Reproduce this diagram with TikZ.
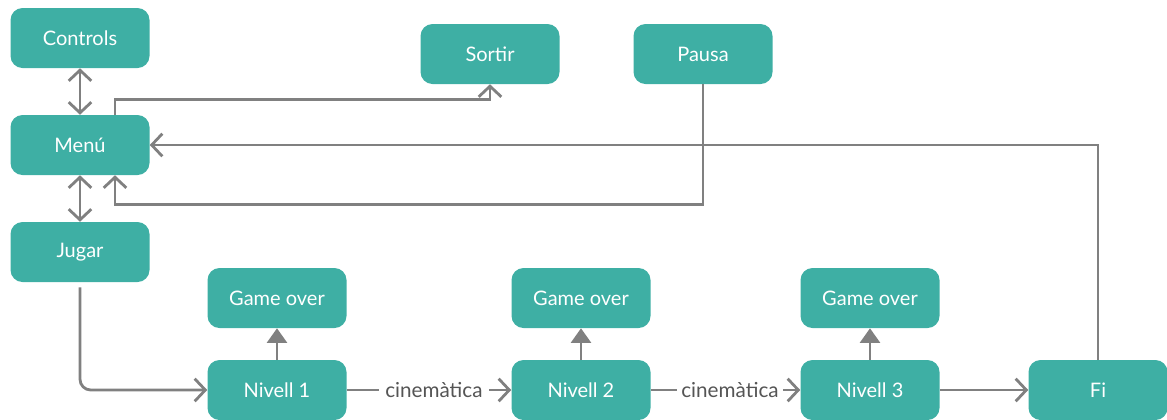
\documentclass[tikz,border=0pt]{standalone}
\usepackage{fontspec}
\setmainfont{Lato}
\usetikzlibrary{arrows.meta}
\definecolor{boxteal}{RGB}{62,175,164}
\definecolor{conncol}{RGB}{128,128,128}
\definecolor{lblcol}{RGB}{85,85,85}
\begin{document}
\begin{tikzpicture}[x=0.75pt,y=-0.75pt,
  box/.style={fill=boxteal, rounded corners=9pt, minimum width=104.25pt, minimum height=45pt,
    text=white, font=\fontsize{15}{18}\selectfont, inner sep=0pt},
  conn/.style={draw=conncol, line width=2.1pt},
  chev/.style={-{Straight Barb[length=8pt,width=17pt]}},
  chevboth/.style={{Straight Barb[length=8pt,width=17pt]}-{Straight Barb[length=8pt,width=17pt]}},
  tri/.style={-{Triangle[length=11pt,width=15pt]}},
  lbl/.style={text=lblcol, font=\fontsize{15.5}{18}\selectfont, fill=white, inner sep=1pt}
]
\useasboundingbox (0,0) rectangle (1167,419);
\node[box] (controls) at (80,38) {Controls};
\node[box] (menu) at (80,145) {Menú};
\node[box] (jugar) at (80,252) {Jugar};
\node[box] (sortir) at (490,54) {Sortir};
\node[box] (pausa) at (703,54) {Pausa};
\node[box] (g1) at (277,298) {Game over};
\node[box] (g2) at (581,298) {Game over};
\node[box] (g3) at (870,298) {Game over};
\node[box] (n1) at (277,390) {Nivell 1};
\node[box] (n2) at (581,390) {Nivell 2};
\node[box] (n3) at (870,390) {Nivell 3};
\node[box] (fi) at (1098,390) {Fi};

\draw[conn, chevboth] (controls) -- (menu);
\draw[conn, chevboth] (menu) -- (jugar);
\draw[conn, chev] ([xshift=26.25pt]menu.north) |- ([yshift=-11.25pt]sortir.south) -- (sortir.south);
\draw[conn, chev] (fi.north) |- (menu.east);
\draw[conn, chev] (pausa.south) |- ([xshift=26.25pt,yshift=-21.75pt]menu.south) -- ([xshift=26.25pt]menu.south);
\draw[conn, chev, rounded corners=8pt] ([yshift=-3.75pt]jugar.south) |- (n1.west);
\draw[conn, tri] (n1) -- (g1);
\draw[conn, tri] (n2) -- (g2);
\draw[conn, tri] (n3) -- (g3);
\draw[conn, chev] (n1) -- node[lbl, pos=0.53, inner xsep=5pt] {cinemàtica} (n2);
\draw[conn, chev] (n2) -- node[lbl, pos=0.53, inner xsep=3pt] {cinemàtica} (n3);
\draw[conn, chev] (n3) -- (fi);
\end{tikzpicture}
\end{document}
